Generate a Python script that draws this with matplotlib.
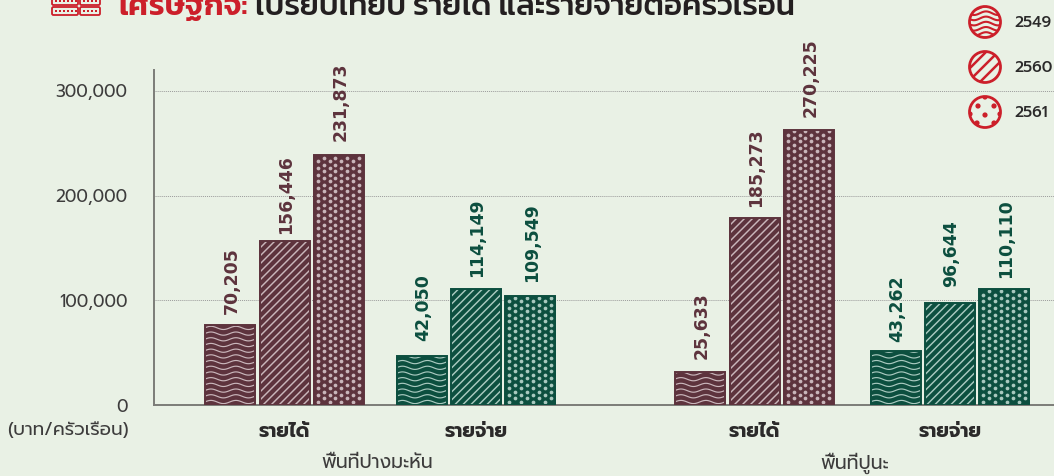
import numpy as np
import matplotlib
matplotlib.use("Agg")
import matplotlib.pyplot as plt
from matplotlib.collections import LineCollection
from matplotlib.lines import Line2D
from matplotlib.patches import Circle, FancyBboxPatch, Rectangle
from matplotlib.transforms import IdentityTransform

# values printed on the chart
income_labels = ["70,205", "156,446", "231,873", "25,633", "185,273", "270,225"]
expense_labels = ["42,050", "114,149", "109,549", "43,262", "96,644", "110,110"]
# bar heights, they do not quite follow the printed numbers
income_heights = [76400, 156700, 238800, 31500, 178600, 262700]
expense_heights = [46800, 110800, 104000, 51600, 97400, 110800]

group_names = ["รายได้", "รายจ่าย", "รายได้", "รายจ่าย"]
area_names = ["พื้นที่ปางมะหัน", "พื้นที่ปูนะ"]
years = ["2549", "2560", "2561"]
y_ticks = [0, 100000, 200000, 300000]
y_tick_labels = ["0", "100,000", "200,000", "300,000"]

BG = "#e9f1e5"
MAROON = "#5d333d"
MAROON_L = "#c9b6bb"
GREEN = "#0c4f3f"
GREEN_L = "#a9c9bf"
RED = "#cc1f2a"
DARK = "#2b2a2a"
SOFT = "#3d3c3c"

THAI = ["Prompt", "Kanit", "Noto Sans Thai", "DejaVu Sans"]
TITLE = ["Kanit", "Prompt", "Noto Sans Thai", "DejaVu Sans"]

W, H = 1054, 476
fig = plt.figure(figsize=(W / 100, H / 100), dpi=100, facecolor=BG)
ax = fig.add_axes([154 / W, (H - 405) / H, (W - 154) / W, 335 / H])
ax.patch.set_alpha(0)
ax.set_xlim(154, 1054)
ax.set_ylim(0, 320000)


def wave_segments(x0, x1, y0, y1, gap, amp, period, phase=0.0):
    xs = np.arange(x0 - 1, x1 + 2, 1.0)
    segs = []
    for y in np.arange(y0, y1 + gap, gap):
        segs.append(np.column_stack([xs, y + amp * np.sin(2 * np.pi * (xs - x0) / period + phase)]))
    return segs


def diag_segments(x0, x1, y0, y1, gap):
    h = y1 - y0
    segs = []
    for x in np.arange(x0 - h, x1 + gap, gap):
        segs.append([(x, y0), (x + h, y1)])
    return segs


def add_pattern(bar, kind, light):
    # texture drawn in pixels and clipped to the bar
    b = bar.get_window_extent()
    x0, x1, y0, y1 = b.x0, b.x1, b.y0, b.y1
    if kind == "dots":
        xs, ys = [], []
        col = 0
        for x in np.arange(x0 + 4.5, x1, 5.9):
            start = y0 + 3.5 + (col % 2) * 3.33
            for y in np.arange(start, y1 - 1, 6.67):
                xs.append(x)
                ys.append(y)
            col += 1
        art = Line2D(xs, ys, ls="none", marker="o", ms=2.7, mew=0, color=light,
                     transform=IdentityTransform(), zorder=3)
    else:
        if kind == "wave":
            segs = wave_segments(x0, x1, y0 + 3, y1, 5.7, 1.6, 25)
            lw = 0.85
        else:
            segs = diag_segments(x0, x1, y0, y1, 8)
            lw = 1.05
        art = LineCollection(segs, colors=light, linewidths=lw,
                             transform=IdentityTransform(), zorder=3)
    ax.add_artist(art)
    art.set_clip_path(bar)


# pixel layout of one chart group: three bars side by side
bar_w = 51
step = 54.3
centers = [284.5, 476, 754.5, 950]
kinds = ["wave", "diag", "dots"]
groups = [
    (centers[0], income_heights[:3], income_labels[:3], MAROON, MAROON_L, [10, 6, 13]),
    (centers[1], expense_heights[:3], expense_labels[:3], GREEN, GREEN_L, [14, 11, 13]),
    (centers[2], income_heights[3:], income_labels[3:], MAROON, MAROON_L, [12, 10, 12]),
    (centers[3], expense_heights[3:], expense_labels[3:], GREEN, GREEN_L, [8, 15, 10]),
]

for cx, heights, labels, color, light, gaps in groups:
    for i in range(3):
        x = cx + (i - 1) * step
        bar = ax.bar(x, heights[i], width=bar_w, color=color, zorder=2)[0]
        add_pattern(bar, kinds[i], light)
        ax.bar(x, heights[i], width=bar_w - 1, fill=False, edgecolor=color, linewidth=1.4, zorder=4)
        ax.annotate(labels[i], (x, heights[i]), xytext=(1, (gaps[i] + 1) * 0.72), textcoords="offset points",
                    rotation=90, ha="center", va="bottom", color=color, fontsize=12.4,
                    fontweight="bold", family="DejaVu Sans", zorder=5)

ax.set_yticks(y_ticks, y_tick_labels, fontsize=12.3, color=SOFT, family=THAI)
ax.set_xticks(centers, group_names, fontsize=14, fontweight="bold", color=DARK, family=THAI)
ax.tick_params(axis="y", length=0, pad=19)
ax.tick_params(axis="x", length=0, pad=12)
ax.set_axisbelow(True)
ax.grid(axis="y", color="#9b9b9b", linestyle=(0, (1, 1)), linewidth=0.7)
ax.grid(axis="x", visible=False)
for s in ["top", "right"]:
    ax.spines[s].set_visible(False)
for s in ["left", "bottom"]:
    ax.spines[s].set_color("#7c7c78")
    ax.spines[s].set_linewidth(1.4)

# overlay in picture pixels for title, legend and the loose texts
top = fig.add_axes([0, 0, 1, 1])
top.set_xlim(0, W)
top.set_ylim(H, 0)
top.axis("off")
top.patch.set_alpha(0)

top.text(68, 431, "(บาท/ครัวเรือน)", ha="center", va="center", fontsize=13.2, color=SOFT, family=THAI)
top.text(377, 463, area_names[0], ha="center", va="center", fontsize=13.6, color=SOFT, family=THAI)
top.text(855, 463, area_names[1], ha="center", va="center", fontsize=13.6, color=SOFT, family=THAI)

top.text(118, 15, "เศรษฐกิจ:", ha="left", va="baseline", fontsize=22.5, color=RED,
         fontweight="semibold", family=TITLE)
top.text(255, 15, "เปรียบเทียบ รายได้ และรายจ่ายต่อครัวเรือน", ha="left", va="baseline", fontsize=22.5,
         color="#231f20", fontweight="medium", family=TITLE)

# keyboard icon next to the title
for ix, iw in [(52, 26), (80, 20)]:
    for iy in [-3, 7]:
        top.add_patch(FancyBboxPatch((ix, iy), iw, 8, boxstyle="round,pad=0,rounding_size=1.5",
                                     fill=False, edgecolor=RED, linewidth=1.3))
        for k in range(int(iw / 4.2)):
            top.add_patch(Rectangle((ix + 2.5 + k * 4, iy + 3), 2.2, 2.2, color=RED, lw=0))

# legend
leg_y = [22, 67, 112]
for yc, year in zip(leg_y, years):
    top.text(1014, yc + 1, year, ha="left", va="center", fontsize=11.2, fontweight="medium",
             color=DARK, family=THAI)

c = Circle((985, leg_y[0]), 15.5, fill=False, edgecolor=RED, linewidth=2)
top.add_patch(c)
lc = LineCollection(wave_segments(968, 1002, 8, 38, 5.2, 1.8, 24), colors=RED, linewidths=1.5)
top.add_collection(lc)
lc.set_clip_path(c)

c = Circle((985, leg_y[1]), 15.5, fill=False, edgecolor=RED, linewidth=2)
top.add_patch(c)
lc = LineCollection([[(x, 84), (x + 34, 50)] for x in range(942, 1002, 12)], colors=RED, linewidths=1.8)
top.add_collection(lc)
lc.set_clip_path(c)

c = Circle((985, leg_y[2]), 15.5, fill=False, edgecolor=RED, linewidth=2)
top.add_patch(c)
for dx, dy in [(-7, -6), (9, -6), (0, 3), (-8, 11), (9, 11), (15, 2), (-15, 2), (0, -15)]:
    d = Circle((985 + dx, leg_y[2] + dy), 2.6, color=RED, lw=0)
    top.add_patch(d)
    d.set_clip_path(c)

fig.savefig("out.png", facecolor=BG)
